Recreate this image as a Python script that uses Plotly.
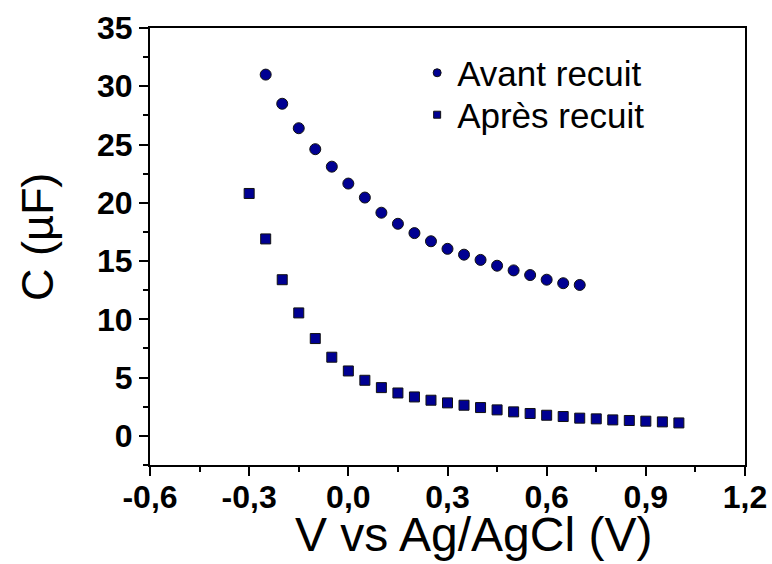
import plotly.graph_objects as go

# Data
v_avant = [-0.25, -0.20, -0.15, -0.10, -0.05, 0.00, 0.05, 0.10, 0.15, 0.20,
           0.25, 0.30, 0.35, 0.40, 0.45, 0.50, 0.55, 0.60, 0.65, 0.70]
c_avant = [31.0, 28.5, 26.4, 24.6, 23.1, 21.65, 20.45, 19.15, 18.2, 17.4,
           16.7, 16.05, 15.55, 15.1, 14.6, 14.2, 13.8, 13.4, 13.1, 12.95]

v_apres = [-0.30, -0.25, -0.20, -0.15, -0.10, -0.05, 0.00, 0.05, 0.10, 0.15,
           0.20, 0.25, 0.30, 0.35, 0.40, 0.45, 0.50, 0.55, 0.60, 0.65,
           0.70, 0.75, 0.80, 0.85, 0.90, 0.95, 1.00]
c_apres = [20.8, 16.9, 13.4, 10.55, 8.35, 6.75, 5.57, 4.77, 4.14, 3.68,
           3.34, 3.06, 2.83, 2.63, 2.43, 2.23, 2.06, 1.92, 1.77, 1.66,
           1.52, 1.46, 1.37, 1.32, 1.26, 1.20, 1.11]

x_tickvals = [-0.6, -0.3, 0.0, 0.3, 0.6, 0.9, 1.2]
x_ticktext = ["-0,6", "-0,3", "0,0", "0,3", "0,6", "0,9", "1,2"]
y_tickvals = [0, 5, 10, 15, 20, 25, 30, 35]

names = ["Avant recuit", "Après recuit"]
x_title = "V vs Ag/AgCl (V)"
y_title = "C (µF)"

NAVY = "#000092"
FONT = "Arial, Liberation Sans, sans-serif"

fig = go.Figure()
fig.add_trace(go.Scatter(x=v_avant, y=c_avant, mode="markers", showlegend=False,
                         marker=dict(symbol="circle", size=11, color=NAVY,
                                     line=dict(color="#111111", width=1))))
fig.add_trace(go.Scatter(x=v_apres, y=c_apres, mode="markers", showlegend=False,
                         marker=dict(symbol="square", size=10, color=NAVY,
                                     line=dict(color="#111111", width=1))))
# legend entries (one legend per entry to control spacing)
fig.add_trace(go.Scatter(x=[None], y=[None], mode="markers", name=names[0], legend="legend",
                         marker=dict(symbol="circle", size=8, color=NAVY,
                                     line=dict(color="#111111", width=1))))
fig.add_trace(go.Scatter(x=[None], y=[None], mode="markers", name=names[1], legend="legend2",
                         marker=dict(symbol="square", size=7, color=NAVY,
                                     line=dict(color="#111111", width=1))))

axis_common = dict(
    showgrid=False, zeroline=False, showline=True, linecolor="black", linewidth=2,
    mirror=True, ticks="outside", ticklen=9, tickwidth=2, tickcolor="black",
    automargin=False,
    tickfont=dict(family=FONT, size=32, color="black", weight="bold"),
)

fig.update_xaxes(
    range=[-0.6, 1.2], tickmode="array", tickvals=x_tickvals, ticktext=x_ticktext,
    ticklabelstandoff=-6,
    minor=dict(dtick=0.15, tick0=-0.6, ticks="outside", ticklen=5, tickwidth=2, tickcolor="black"),
    **axis_common,
)
fig.update_yaxes(
    range=[-2.5, 35], tickmode="array", tickvals=y_tickvals,
    minor=dict(dtick=2.5, tick0=-2.5, ticks="outside", ticklen=5, tickwidth=2, tickcolor="black"),
    **axis_common,
)

# axis titles as annotations (the reference's titles are off-centre)
fig.add_annotation(text=x_title, xref="paper", yref="paper", x=0.543, y=-0.158,
                   xanchor="center", yanchor="middle", showarrow=False,
                   font=dict(family=FONT, size=48, color="black"))
fig.add_annotation(text=y_title, xref="paper", yref="paper", x=-0.188, y=0.522,
                   xanchor="center", yanchor="middle", showarrow=False, textangle=-90,
                   font=dict(family=FONT, size=45, color="black"))

leg_common = dict(xanchor="left", yanchor="middle", bgcolor="rgba(0,0,0,0)", borderwidth=0,
                  font=dict(family=FONT, size=35, color="black"), itemsizing="trace")

fig.update_layout(
    width=772, height=564,
    margin=dict(l=150, r=27, t=28, b=99),
    plot_bgcolor="white", paper_bgcolor="white",
    legend=dict(x=0.449, y=0.897, **leg_common),
    legend2=dict(x=0.449, y=0.801, **leg_common),
)

fig.write_html("out.html", config={"displayModeBar": False},
               post_script="document.body.style.margin='0';")
